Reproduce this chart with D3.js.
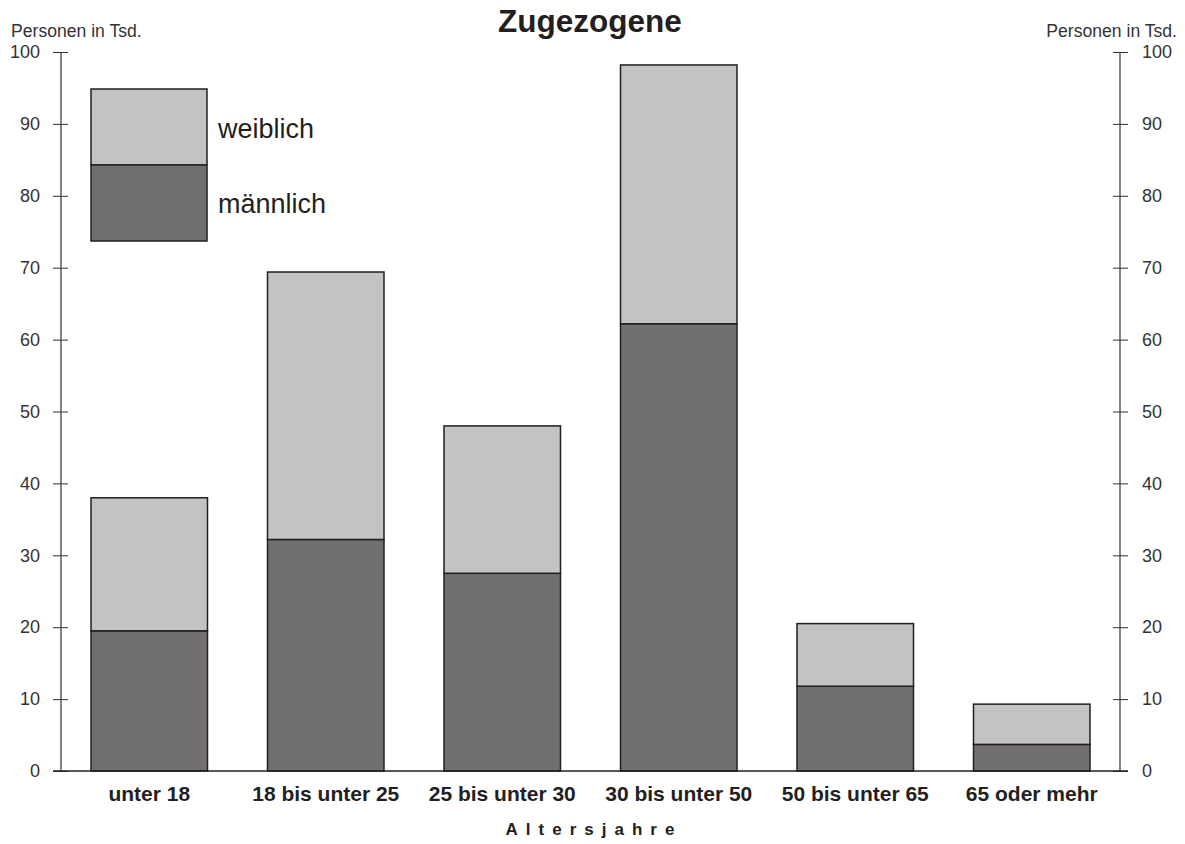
<!DOCTYPE html>
<html>
<head>
<meta charset="utf-8">
<script src="https://cdn.jsdelivr.net/npm/d3@7"></script>
<style>
  body { margin: 0; background: #fff; }
  text { font-family: "Liberation Sans", Arial, sans-serif; }
</style>
</head>
<body>
<div id="chart"></div>
<script>
// Data
const categories = ["unter 18", "18 bis unter 25", "25 bis unter 30", "30 bis unter 50", "50 bis unter 65", "65 oder mehr"];
const maennlich = [19.5, 32.2, 27.5, 62.2, 11.8, 3.7];
const weiblich = [18.5, 37.2, 20.5, 36.0, 8.7, 5.6];
const yTicks = [0, 10, 20, 30, 40, 50, 60, 70, 80, 90, 100];

const width = 1185;
const height = 844;
const plotLeft = 61, plotRight = 1120, plotTop = 52, plotBottom = 771;

const colMale = "#72706e";
const colFemale = "#c3c3c3";
const stroke = "#231f20";

const svg = d3.select("#chart")
    .append("svg")
    .attr("width", width)
    .attr("height", height);

const x = d3.scaleBand()
    .domain(categories)
    .range([plotLeft, plotRight])
    .paddingInner(0.34)
    .paddingOuter(0.17);

const y = d3.scaleLinear()
    .domain([0, 100])
    .range([plotBottom, plotTop]);

// Bars
const rows = categories.map((c, i) => ({ cat: c, m: maennlich[i], w: weiblich[i] }));

svg.selectAll(".male")
    .data(rows)
    .enter().append("rect")
    .attr("x", d => x(d.cat))
    .attr("y", d => y(d.m))
    .attr("width", x.bandwidth())
    .attr("height", d => y(0) - y(d.m))
    .attr("fill", colMale)
    .attr("stroke", stroke)
    .attr("stroke-width", 1.5);

svg.selectAll(".female")
    .data(rows)
    .enter().append("rect")
    .attr("x", d => x(d.cat))
    .attr("y", d => y(d.m + d.w))
    .attr("width", x.bandwidth())
    .attr("height", d => y(d.m) - y(d.m + d.w))
    .attr("fill", colFemale)
    .attr("stroke", stroke)
    .attr("stroke-width", 1.5);

// Axes
function styleAxis(g) {
    g.select(".domain").remove();
    g.selectAll(".tick line").attr("stroke", "#333");
    g.selectAll(".tick text")
        .attr("fill", "#333")
        .style("font-size", "18px")
        .style("font-family", "'Liberation Sans', Arial, sans-serif");
}

const leftAx = svg.append("g")
    .attr("transform", `translate(${plotLeft},0)`)
    .call(d3.axisLeft(y).tickValues(yTicks).tickSize(0).tickPadding(21))
    .call(styleAxis);
leftAx.selectAll(".tick line").attr("x1", -8).attr("x2", 7);

const rightAx = svg.append("g")
    .attr("transform", `translate(${plotRight},0)`)
    .call(d3.axisRight(y).tickValues(yTicks).tickSize(0).tickPadding(22))
    .call(styleAxis);
rightAx.selectAll(".tick line").attr("x1", -7).attr("x2", 8);

// Axis lines
svg.append("line")
    .attr("x1", plotLeft).attr("x2", plotLeft)
    .attr("y1", y(100)).attr("y2", y(0))
    .attr("stroke", "#333").attr("stroke-width", 1.2);
svg.append("line")
    .attr("x1", plotRight).attr("x2", plotRight)
    .attr("y1", y(100)).attr("y2", y(0))
    .attr("stroke", "#333").attr("stroke-width", 1.2);
svg.append("line")
    .attr("x1", plotLeft - 8).attr("x2", plotRight + 8)
    .attr("y1", y(0)).attr("y2", y(0))
    .attr("stroke", "#231f20").attr("stroke-width", 1.5);

// Category labels
svg.append("g")
    .attr("transform", `translate(0,${plotBottom})`)
    .call(d3.axisBottom(x).tickSize(0).tickPadding(15))
    .call(g => g.select(".domain").remove())
    .selectAll("text")
    .attr("fill", "#231f20")
    .style("font-size", "21px")
    .style("font-weight", "bold")
    .style("font-family", "'Liberation Sans', Arial, sans-serif");

// Titles
svg.append("text")
    .attr("x", 590).attr("y", 32)
    .attr("text-anchor", "middle")
    .style("font-size", "31.5px").style("font-weight", "bold")
    .attr("fill", "#231f20")
    .text("Zugezogene");

svg.append("text")
    .attr("x", 11).attr("y", 37)
    .style("font-size", "17.6px").attr("fill", "#333")
    .text("Personen in Tsd.");
svg.append("text")
    .attr("x", 1177).attr("y", 37)
    .attr("text-anchor", "end")
    .style("font-size", "17.6px").attr("fill", "#333")
    .text("Personen in Tsd.");

svg.append("text")
    .attr("x", 594).attr("y", 835)
    .attr("text-anchor", "middle")
    .style("font-size", "17px").style("font-weight", "bold")
    .style("letter-spacing", "8px")
    .attr("fill", "#231f20")
    .text("Altersjahre");

// Legend
const lx = 91, lw = 116;
svg.append("rect").attr("x", lx).attr("y", 89).attr("width", lw).attr("height", 76)
    .attr("fill", colFemale).attr("stroke", stroke).attr("stroke-width", 1.5);
svg.append("rect").attr("x", lx).attr("y", 165).attr("width", lw).attr("height", 76)
    .attr("fill", colMale).attr("stroke", stroke).attr("stroke-width", 1.5);
svg.append("text").attr("x", 218).attr("y", 138)
    .style("font-size", "27px").attr("fill", "#231f20").text("weiblich");
svg.append("text").attr("x", 218).attr("y", 213)
    .style("font-size", "27px").attr("fill", "#231f20").text("männlich");
</script>
</body>
</html>
